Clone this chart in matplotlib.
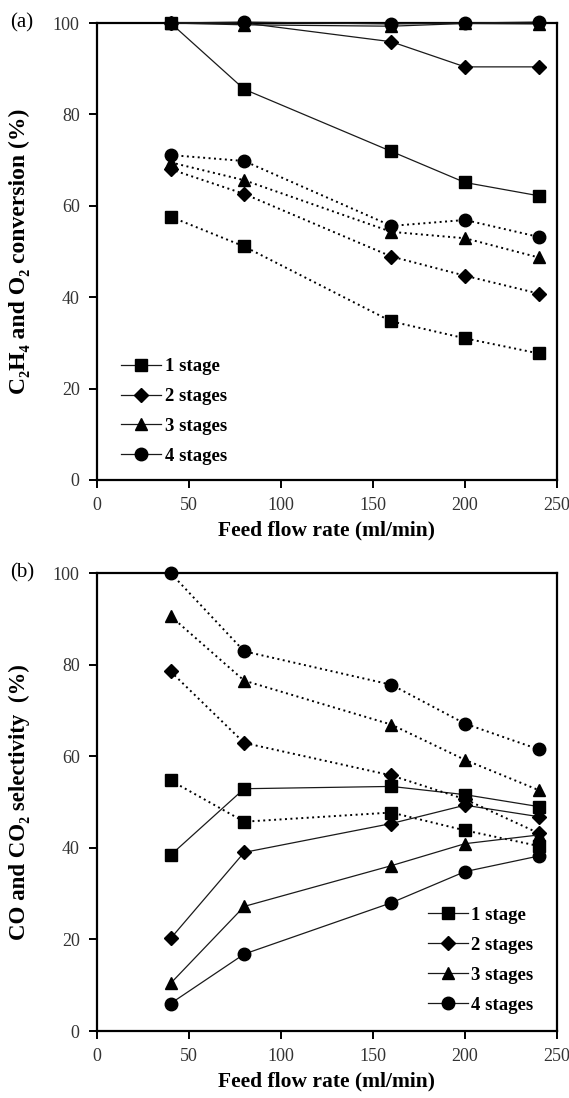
import matplotlib
matplotlib.use("Agg")
import matplotlib.pyplot as plt
from matplotlib.lines import Line2D

plt.rcParams['font.family'] = ['Liberation Serif', 'DejaVu Serif']

flow = [40, 80, 160, 200, 240]
stages = ['1 stage', '2 stages', '3 stages', '4 stages']
markers = ['s', 'D', '^', 'o']

# Panel (a): conversion (%)
a_solid = [
    [100, 85.5, 71.9, 65.1, 62.2],
    [100, 100, 95.9, 90.4, 90.4],
    [100, 99.6, 99.3, 99.9, 99.8],
    [100, 100.2, 99.8, 100, 100.2],
]
a_dotted = [
    [57.6, 51.1, 34.7, 31.0, 27.7],
    [68.0, 62.6, 48.9, 44.7, 40.8],
    [69.5, 65.6, 54.3, 52.9, 48.7],
    [71.1, 69.8, 55.6, 56.9, 53.2],
]

# Panel (b): selectivity (%)
b_solid = [
    [38.4, 52.9, 53.4, 51.6, 49.0],
    [20.2, 39.0, 45.3, 49.3, 46.8],
    [10.4, 27.2, 36.1, 40.9, 42.8],
    [6.0, 16.8, 28.0, 34.8, 38.2],
]
b_dotted = [
    [54.7, 45.7, 47.7, 43.8, 40.4],
    [78.5, 62.9, 55.8, 50.6, 43.2],
    [90.6, 76.5, 66.9, 59.2, 52.6],
    [100, 82.9, 75.6, 67.1, 61.5],
]

xticks = [0, 50, 100, 150, 200, 250]
yticks = [0, 20, 40, 60, 80, 100]

W, H = 569, 1098
fig = plt.figure(figsize=(W / 100, H / 100), dpi=100)

def px_axes(left, top, right, bottom):
    return fig.add_axes([left / W, 1 - bottom / H, (right - left) / W, (bottom - top) / H])

ax_a = px_axes(97, 23, 557, 480)
ax_b = px_axes(97, 573, 557, 1031)

msizes = {'s': 8, 'D': 7, '^': 9, 'o': 9}

def draw(ax, solid, dotted, ylabel, ylsize, legend_anchor, panel_label, label_y):
    for i in range(4):
        m = markers[i]
        ax.plot(flow, solid[i], color='#1a1a1a', lw=0.9, ls='-', marker=m,
                ms=msizes[m], mfc='black', mec='black', clip_on=False, zorder=3)
        ax.plot(flow, dotted[i], color='black', lw=1.4, ls=(0, (1.0, 1.8)), marker=m,
                ms=msizes[m], mfc='black', mec='black', clip_on=False, zorder=3)
    ax.set_xlim(0, 250)
    ax.set_ylim(0, 100)
    ax.set_xticks(xticks)
    ax.set_yticks(yticks)
    for s in ax.spines.values():
        s.set_linewidth(1.6)
    ax.tick_params(direction='out', length=5.5, width=1.4, pad=7,
                   labelsize=13, labelcolor='#333333', top=False, right=False)
    ax.set_xlabel('Feed flow rate (ml/min)', fontsize=15.5, fontweight='bold')
    ax.xaxis.set_label_coords(0.5, -0.088)
    ax.set_ylabel(ylabel, fontsize=ylsize, fontweight='bold')
    ax.yaxis.set_label_coords(-0.145, 0.5)
    handles = [Line2D([0], [0], color='#1a1a1a', lw=0.9, marker=markers[i],
                      ms=msizes[markers[i]], mfc='black', mec='black') for i in range(4)]
    ax.legend(handles, stages, loc='lower left', bbox_to_anchor=legend_anchor,
              frameon=False, prop={'weight': 'bold', 'size': 13.5}, handlelength=2.1,
              handletextpad=0.2, labelspacing=0.68, borderaxespad=0, borderpad=0)
    fig.text(10 / W, 1 - label_y / H, panel_label, fontsize=15, va='center', ha='left')

draw(ax_a, a_solid, a_dotted, 'C\u2082H\u2084 and O\u2082 conversion (%)', 17,
     (0.053, 0.033), '(a)', 23)
draw(ax_b, b_solid, b_dotted, 'CO and CO\u2082 selectivity  (%)', 16.5,
     (0.72, 0.038), '(b)', 573)

fig.savefig('out.png', dpi=100)
